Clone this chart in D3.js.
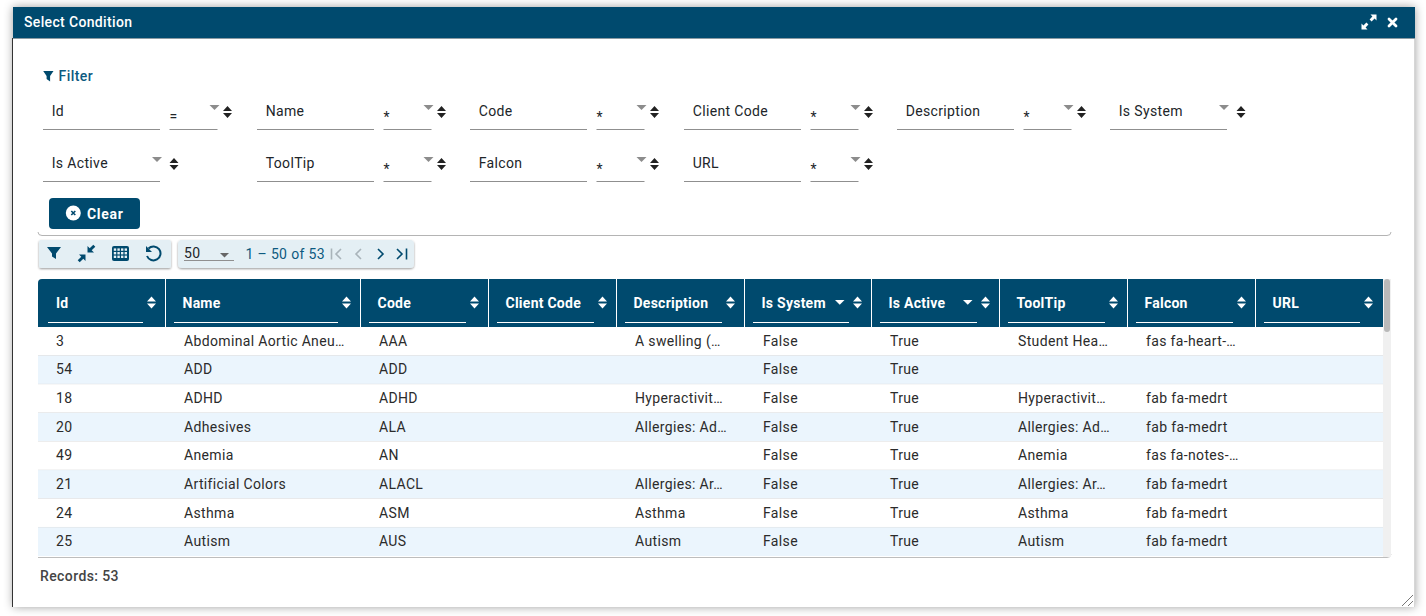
<!DOCTYPE html>
<html>
<head>
<meta charset="utf-8">
<title>Select Condition</title>
<script src="https://cdn.jsdelivr.net/npm/d3@7"></script>
<style>
	html, body { margin: 0; padding: 0; background: #fff; overflow: hidden; }
	svg { display: block; }
	text { font-family: Roboto, sans-serif; font-size: 14px; letter-spacing: 0.35px; fill: #212529; }
	.head { fill: #fff; font-weight: 700; letter-spacing: 0.25px; }
</style>
</head>
<body>
<script>
// table contents, one array per column
var columns = ["Id", "Name", "Code", "Client Code", "Description", "Is System", "Is Active", "ToolTip", "Falcon", "URL"];
var ids = ["3", "54", "18", "20", "49", "21", "24", "25"];
var names = ["Abdominal Aortic Aneu…", "ADD", "ADHD", "Adhesives", "Anemia", "Artificial Colors", "Asthma", "Autism"];
var codes = ["AAA", "ADD", "ADHD", "ALA", "AN", "ALACL", "ASM", "AUS"];
var clientCodes = ["", "", "", "", "", "", "", ""];
var descriptions = ["A swelling (…", "", "Hyperactivit…", "Allergies: Ad…", "", "Allergies: Ar…", "Asthma", "Autism"];
var isSystem = ["False", "False", "False", "False", "False", "False", "False", "False"];
var isActive = ["True", "True", "True", "True", "True", "True", "True", "True"];
var toolTips = ["Student Hea…", "", "Hyperactivit…", "Allergies: Ad…", "Anemia", "Allergies: Ar…", "Asthma", "Autism"];
var falcons = ["fas fa-heart-…", "", "fab fa-medrt", "fab fa-medrt", "fas fa-notes-…", "fab fa-medrt", "fab fa-medrt", "fab fa-medrt"];
var urls = ["", "", "", "", "", "", "", ""];
var cells = [ids, names, codes, clientCodes, descriptions, isSystem, isActive, toolTips, falcons, urls];

// filter form
var filterRow1 = ["Id", "Name", "Code", "Client Code", "Description", "Is System"];
var filterRow2 = ["Is Active", "ToolTip", "Falcon", "URL"];
var filterOps1 = ["=", "*", "*", "*", "*", null];
var filterOps2 = [null, "*", "*", "*"];

var navy = "#004a6e";
var width = 1426, height = 616;

var svg = d3.select("body").append("svg").attr("width", width).attr("height", height);

var defs = svg.append("defs");
var shadow = defs.append("filter").attr("id", "dialogShadow")
	.attr("x", "-3%").attr("y", "-5%").attr("width", "106%").attr("height", "110%");
shadow.append("feDropShadow").attr("dx", 0).attr("dy", 0).attr("stdDeviation", 5)
	.attr("flood-color", "#000").attr("flood-opacity", 0.38);
var small = defs.append("filter").attr("id", "barShadow")
	.attr("x", "-3%").attr("y", "-20%").attr("width", "106%").attr("height", "150%");
small.append("feDropShadow").attr("dx", 0).attr("dy", 1).attr("stdDeviation", 1)
	.attr("flood-color", "#000").attr("flood-opacity", 0.4);

// dialog
svg.append("rect").attr("x", 13).attr("y", 7).attr("width", 1402).attr("height", 600)
	.attr("fill", "#fff").attr("filter", "url(#dialogShadow)");
svg.append("rect").attr("x", 12).attr("y", 38).attr("width", 1).attr("height", 569).attr("fill", "#333");
svg.append("rect").attr("x", 13).attr("y", 7).attr("width", 1402).attr("height", 31).attr("fill", navy);
svg.append("rect").attr("x", 13).attr("y", 38).attr("width", 1402).attr("height", 1).attr("fill", "#8a9aa3");
svg.append("rect").attr("x", 1414).attr("y", 39).attr("width", 1).attr("height", 568).attr("fill", "#d6d6d6");
svg.append("text").attr("x", 24).attr("y", 27).style("fill", "#fff").style("font-weight", 500)
	.style("letter-spacing", "0.35px").text("Select Condition");

// expand and close icons in the title bar
var expand = svg.append("g").attr("transform", "translate(1369,22)").attr("fill", "#fff");
expand.append("path").attr("d", "M1.5,-7.5 L7.5,-7.5 L7.5,-1.5 L5.6,-3.4 L2.6,-0.6 L0.6,-2.6 L3.4,-5.6 Z");
expand.append("path").attr("d", "M-1.5,7.5 L-7.5,7.5 L-7.5,1.5 L-5.6,3.4 L-2.6,0.6 L-0.6,2.6 L-3.4,5.6 Z");
svg.append("path").attr("d", "M1389,19 L1396,26 M1396,19 L1389,26")
	.attr("stroke", "#fff").attr("stroke-width", 2.8).attr("stroke-linecap", "round");

// filter card
svg.append("path").attr("d", "M38,232 Q38,235.5 42,235.5 L1387,235.5 Q1391,235.5 1391,232")
	.attr("fill", "none").attr("stroke", "#b4b4b4").attr("stroke-width", 1);

svg.append("path").attr("d", "M43.2,71 L53.5,71 L50.1,76 L50.1,81.5 L46.6,79 L46.6,76 Z").attr("fill", navy);
svg.append("text").attr("x", 58.5).attr("y", 81).style("fill", "#0d5a80").style("font-weight", 500)
	.style("letter-spacing", "0.45px").text("Filter");

function updown(g, color){
	g.append("path").attr("d", "M-4.5,-1 L0,-6 L4.5,-1 Z M-4.5,1 L0,6 L4.5,1 Z").attr("fill", color);
}
function caret(g, x, y){
	g.append("path").attr("d", "M" + (x - 5) + "," + y + " h10 l-5,5 Z").attr("fill", "#8c8c8c");
}

var fieldStep = d3.scaleLinear().domain([0, 5]).rangeRound([43.4, 1110.4]);
function drawFilterRow(labels, ops, lineY){
	var row = svg.append("g").selectAll("g").data(labels).enter().append("g")
		.attr("transform", function(d, i){ return "translate(" + fieldStep(i) + "," + lineY + ")"; });
	row.append("rect").attr("x", 0).attr("y", -0.5).attr("width", 117).attr("height", 1).attr("fill", "#8f8f8f");
	row.append("text").attr("x", 8.7).attr("y", -14).text(function(d){ return d; });
	row.each(function(d, i){
		var g = d3.select(this);
		if(ops[i] === null){
			caret(g, 114, -24.5);
			updown(g.append("g").attr("transform", "translate(131,-17.5)"), "#222");
			return;
		}
		g.append("rect").attr("x", 126.5).attr("y", -0.5).attr("width", 48).attr("height", 1).attr("fill", "#8f8f8f");
		g.append("text").attr("x", 126.5).attr("y", ops[i] === "=" ? -9 : -8).style("font-size", "14px").text(ops[i]);
		caret(g, 171.5, -24.5);
		updown(g.append("g").attr("transform", "translate(184.5,-17.5)"), "#222");
	});
}
drawFilterRow(filterRow1, filterOps1, 129.5);
drawFilterRow(filterRow2, filterOps2, 181.5);

// clear button
svg.append("rect").attr("x", 49).attr("y", 198).attr("width", 91).attr("height", 31).attr("rx", 4).attr("fill", navy);
svg.append("circle").attr("cx", 73.3).attr("cy", 213).attr("r", 7.5).attr("fill", "#fff");
svg.append("path").attr("d", "M71.3,211 L75.3,215 M75.3,211 L71.3,215")
	.attr("stroke", navy).attr("stroke-width", 1.6);
svg.append("text").attr("x", 87).attr("y", 219).style("fill", "#fff").style("font-weight", 700)
	.style("letter-spacing", "0.7px").text("Clear");

// toolbars
svg.append("rect").attr("x", 39).attr("y", 240).attr("width", 132).attr("height", 28).attr("rx", 2)
	.attr("fill", "#e4eff4").attr("filter", "url(#barShadow)");
svg.append("rect").attr("x", 178).attr("y", 240).attr("width", 236).attr("height", 28).attr("rx", 4)
	.attr("fill", "#e4eff4").attr("filter", "url(#barShadow)");

svg.append("path").attr("d", "M47,247 L61,247 L56,253.5 L56,259 L52,256.5 L52,253.5 Z").attr("fill", navy);
var collapse = svg.append("g").attr("transform", "translate(86.5,253.5)").attr("fill", navy);
collapse.append("path").attr("d", "M1,-1 L7.5,-1 L5.2,-3.2 L8.8,-6.8 L6.8,-8.8 L3.2,-5.2 L1,-7.5 Z");
collapse.append("path").attr("d", "M-1,1 L-7.5,1 L-5.2,3.2 L-8.8,6.8 L-6.8,8.8 L-3.2,5.2 L-1,7.5 Z");
var grid = svg.append("g").attr("transform", "translate(112,246)");
grid.append("rect").attr("width", 17).attr("height", 15).attr("rx", 2).attr("fill", navy);
grid.selectAll("rect.dot").data(d3.cross(d3.range(4), d3.range(3))).enter().append("rect").classed("dot", true)
	.attr("x", function(d){ return 1.8 + d[0] * 3.6; })
	.attr("y", function(d){ return 2.4 + d[1] * 3.6; })
	.attr("width", 2.4).attr("height", 2.4).attr("fill", "#e4eff4");
svg.append("path").attr("d", "M148.5,248.5 A7,7 0 1 1 147,256")
	.attr("fill", "none").attr("stroke", navy).attr("stroke-width", 2);
svg.append("path").attr("d", "M146,246 L146,252 L152,252 Z").attr("fill", navy);

svg.append("text").attr("x", 184).attr("y", 258).text("50");
svg.append("rect").attr("x", 184).attr("y", 260).attr("width", 50).attr("height", 1).attr("fill", "#8f8f8f");
svg.append("path").attr("d", "M220,253 h9 l-4.5,4.5 Z").attr("fill", "#666");
svg.append("text").attr("x", 245.5).attr("y", 259).style("fill", "#0d5a80").text("1 – 50 of 53");

var pagerIcons = [
	{d: "M331.5,248.5 V259.5 M341,249 L336,254 L341,259", c: "#a9b4ba"},
	{d: "M361,249 L356,254 L361,259", c: "#a9b4ba"},
	{d: "M378,249 L383,254 L378,259", c: navy},
	{d: "M397,249 L402,254 L397,259 M406.5,248.5 V259.5", c: navy}
];
svg.append("g").selectAll("path").data(pagerIcons).enter().append("path")
	.attr("d", function(d){ return d.d; })
	.attr("fill", "none").attr("stroke-width", 1.6)
	.attr("stroke", function(d){ return d.c; });

// table scales
var colWidths = [128, 195, 128, 128, 128, 127, 128, 128, 128, 127];
var colStarts = d3.cumsum([38].concat(colWidths));
var x = d3.scaleOrdinal().domain(columns).range(colStarts);
var w = d3.scaleOrdinal().domain(columns).range(colWidths);
var y = d3.scaleBand().domain(d3.range(ids.length)).range([327, 556]);

// rows
var rows = svg.append("g").selectAll("g").data(d3.range(ids.length)).enter().append("g")
	.attr("transform", function(d){ return "translate(0," + y(d) + ")"; });
rows.append("rect").attr("x", 38).attr("width", 1345).attr("height", y.bandwidth())
	.attr("fill", function(d){ return d % 2 ? "#ebf5fd" : "#fff"; });
rows.filter(function(d){ return d < ids.length - 1; }).append("rect")
	.attr("x", 38).attr("y", y.bandwidth() - 0.4).attr("width", 1345).attr("height", 1).attr("fill", "#d8d8d8");
rows.each(function(r){
	d3.select(this).selectAll("text").data(columns).enter().append("text")
		.attr("x", function(c){ return x(c) + 18; })
		.attr("y", y.bandwidth() / 2 + 4.5)
		.style("fill", "#2b2b2b")
		.text(function(c, i){ return cells[i][r]; });
});
svg.append("path").attr("d", "M38,557.5 H1387 Q1391,557.5 1391,554")
	.attr("fill", "none").attr("stroke", "#bdbdbd");

// header
svg.append("path").attr("d", "M38,327 V283 Q38,279 42,279 H1383 V327 Z").attr("fill", navy);
var heads = svg.append("g").selectAll("g").data(columns).enter().append("g")
	.attr("transform", function(c){ return "translate(" + x(c) + ",0)"; });
heads.filter(function(c, i){ return i > 0; }).append("rect")
	.attr("x", -1).attr("y", 279).attr("width", 1).attr("height", 48).attr("fill", "#fff");
heads.append("text").classed("head", true).attr("x", function(c, i){ return i ? 16.5 : 18; }).attr("y", 308)
	.text(function(c){ return c; });
heads.append("rect").attr("y", 322).attr("height", 1).attr("fill", "#fff")
	.attr("x", function(c, i){ return i ? 8 : 10; })
	.attr("width", function(c, i){ return i ? w(c) - 31 : 95; });
heads.each(function(c){
	var g = d3.select(this);
	updown(g.append("g").attr("transform", "translate(" + (w(c) - 14.5) + ",302.5)"), "#fff");
	if(c === "Is System" || c === "Is Active"){
		g.append("path").attr("d", "M" + (w(c) - 37) + ",300 h9.5 l-4.75,4.75 Z").attr("fill", "#fff");
	}
});

// scrollbar
svg.append("rect").attr("x", 1383).attr("y", 279).attr("width", 8).attr("height", 278).attr("fill", "#f0f0f0");
svg.append("rect").attr("x", 1384).attr("y", 279).attr("width", 6).attr("height", 53).attr("rx", 3).attr("fill", "#b9b9b9");

// footer
svg.append("text").attr("x", 40).attr("y", 581).style("font-weight", 500).style("letter-spacing", "0.4px")
	.style("fill", "#444").text("Records: 53");

// resize grip
svg.append("path").attr("d", "M1402,606 L1413,595 M1408,606 L1413,601").attr("stroke", "#777").attr("stroke-width", 1);
</script>
</body>
</html>
